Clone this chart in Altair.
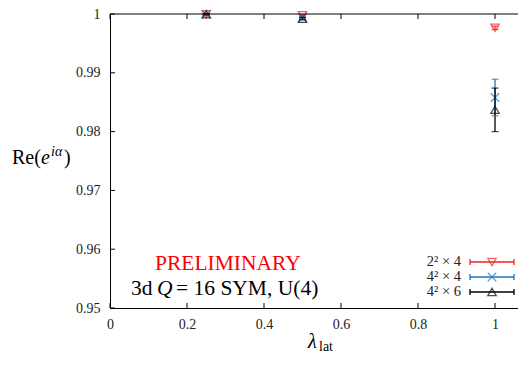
import altair as alt
import pandas as pd

# ---- data ----
lam = [0.25, 0.5, 1.0]
series = ["2² × 4", "4² × 4", "4² × 6"]
val_224 = [0.99995, 0.99978, 0.99765]
err_224 = [0.0001, 0.0001, 0.0003]
val_424 = [0.99995, 0.9994, 0.9858]
err_424 = [0.0001, 0.0001, 0.0031]
val_426 = [0.99995, 0.9992, 0.9837]
err_426 = [0.0001, 0.0002, 0.0037]
colors = ["#ee2222", "#1f78c1", "#000000"]
shapes = ["triangle-down", "M-1,-1L1,1M-1,1L1,-1", "triangle-up"]

x_ticks = [0, 0.2, 0.4, 0.6, 0.8, 1.0]
y_ticks = [0.95, 0.96, 0.97, 0.98, 0.99, 1.0]

W, H = 408, 294
TOP = 6
BOTTOM = 46
FONT = "Liberation Serif"

rows = []
for s, vals, errs in [(series[0], val_224, err_224), (series[1], val_424, err_424), (series[2], val_426, err_426)]:
    for l, v, e in zip(lam, vals, errs):
        rows.append({"series": s, "lam": l, "val": v, "lo": v - e, "hi": v + e})
df = pd.DataFrame(rows)
caps = pd.concat([
    df[["series", "lam", "lo"]].rename(columns={"lo": "val"}),
    df[["series", "lam", "hi"]].rename(columns={"hi": "val"}),
])

xscale = alt.Scale(domain=[0, 1.0597], nice=False, zero=False)
yscale = alt.Scale(domain=[0.95, 1.0], nice=False, zero=False)
color = alt.Color("series:N", scale=alt.Scale(domain=series, range=colors), legend=None)
shape = alt.Shape("series:N", scale=alt.Scale(domain=series, range=shapes), legend=None)

xaxis = alt.Axis(values=x_ticks, ticks=False, grid=False, title=None, format="~g",
                 labelFont=FONT, labelFontSize=14, labelColor="#222", labelPadding=9,
                 labelFlush=False, domainColor="#000", domainWidth=1)
yaxis = alt.Axis(values=y_ticks, ticks=False, grid=False, title=None, format="~g",
                 labelFont=FONT, labelFontSize=14, labelColor="#222", labelPadding=10,
                 labelFlush=False, domainColor="#000", domainWidth=1)


def X(field):
    return alt.X(field, scale=xscale, axis=xaxis, title=None)


def Y(field):
    return alt.Y(field, scale=yscale, axis=yaxis, title=None)


base = alt.Chart(df)
points = base.mark_point(filled=False, size=70, strokeWidth=1.3, clip=False).encode(
    x=X("lam:Q"), y=Y("val:Q"), color=color, shape=shape,
)
bars = base.mark_rule(strokeWidth=1.3).encode(
    x=X("lam:Q"), y=Y("lo:Q"), y2="hi:Q", color=color,
)
capmarks = alt.Chart(caps).mark_point(shape="M-1,0L1,0", size=49, filled=False, strokeWidth=1.3).encode(
    x=X("lam:Q"), y=Y("val:Q"), color=color,
)

xt = pd.DataFrame({"lam": x_ticks})
yt = pd.DataFrame({"val": y_ticks})
tb = alt.Chart(xt).mark_rule(color="#000", strokeWidth=1).encode(
    x=X("lam:Q"), y=alt.value(H), y2=alt.value(H - 5))
tt = alt.Chart(xt).mark_rule(color="#000", strokeWidth=1).encode(
    x=X("lam:Q"), y=alt.value(0), y2=alt.value(5))
tl = alt.Chart(yt).mark_rule(color="#000", strokeWidth=1).encode(
    y=Y("val:Q"), x=alt.value(0), x2=alt.value(5))
top = alt.Chart(pd.DataFrame({"a": [0]})).mark_rule(color="#000", strokeWidth=1).encode(
    x=alt.value(0), x2=alt.value(W), y=alt.value(0))


def txt(text, x, y, size, col="#000", style="normal", align="left", baseline="alphabetic"):
    return alt.Chart(pd.DataFrame({"t": [text]})).mark_text(
        font=FONT, fontSize=size, color=col, fontStyle=style, align=align, baseline=baseline
    ).encode(text="t:N", x=alt.value(x), y=alt.value(y - TOP))


texts = [
    # y title Re(e^{iα})
    txt("Re(", -98, 156, 20),
    txt("e", -69, 156, 20, style="italic"),
    txt("iα", -59, 148, 14, style="italic"),
    txt(")", -46, 156, 20),
    # x title λ_lat
    txt("λ", 198, 340, 20, style="italic"),
    txt("lat", 209, 343, 14),
    # annotations
    txt("PRELIMINARY", 45, 262, 21.5, col="#ff0000"),
    txt("3d", 21, 287, 21.5),
    txt("Q", 47, 287, 21.5, style="italic"),
    txt("= 16 SYM, U(4)", 66, 287, 21.5),
]

legend = []
for i, s in enumerate(series):
    yy = 254 + 15 * i - TOP
    legend.append(txt(s, 351, yy + TOP, 14.5, col="#222", align="right", baseline="middle"))
    one = alt.Chart(pd.DataFrame({"a": [0]}))
    legend.append(one.mark_rule(color=colors[i], strokeWidth=1.3).encode(
        x=alt.value(360), x2=alt.value(404), y=alt.value(yy)))
    legend.append(one.mark_rule(color=colors[i], strokeWidth=1.3).encode(
        x=alt.value(360), y=alt.value(yy - 3), y2=alt.value(yy + 3)))
    legend.append(one.mark_rule(color=colors[i], strokeWidth=1.3).encode(
        x=alt.value(404), y=alt.value(yy - 3), y2=alt.value(yy + 3)))
    legend.append(one.mark_point(shape=shapes[i], color=colors[i], filled=False, size=70,
                                 strokeWidth=1.3).encode(x=alt.value(382), y=alt.value(yy)))

chart = alt.layer(points, bars, capmarks, tb, tt, tl, top, *texts, *legend).properties(
    width=W, height=H,
    padding={"left": 102, "top": TOP, "right": 0, "bottom": BOTTOM},
    autosize=alt.AutoSizeParams(type="none"),
).configure_view(stroke=None).configure_axis(labelFont=FONT)

chart.save("out.html", embed_options={"renderer": "svg", "actions": False})
